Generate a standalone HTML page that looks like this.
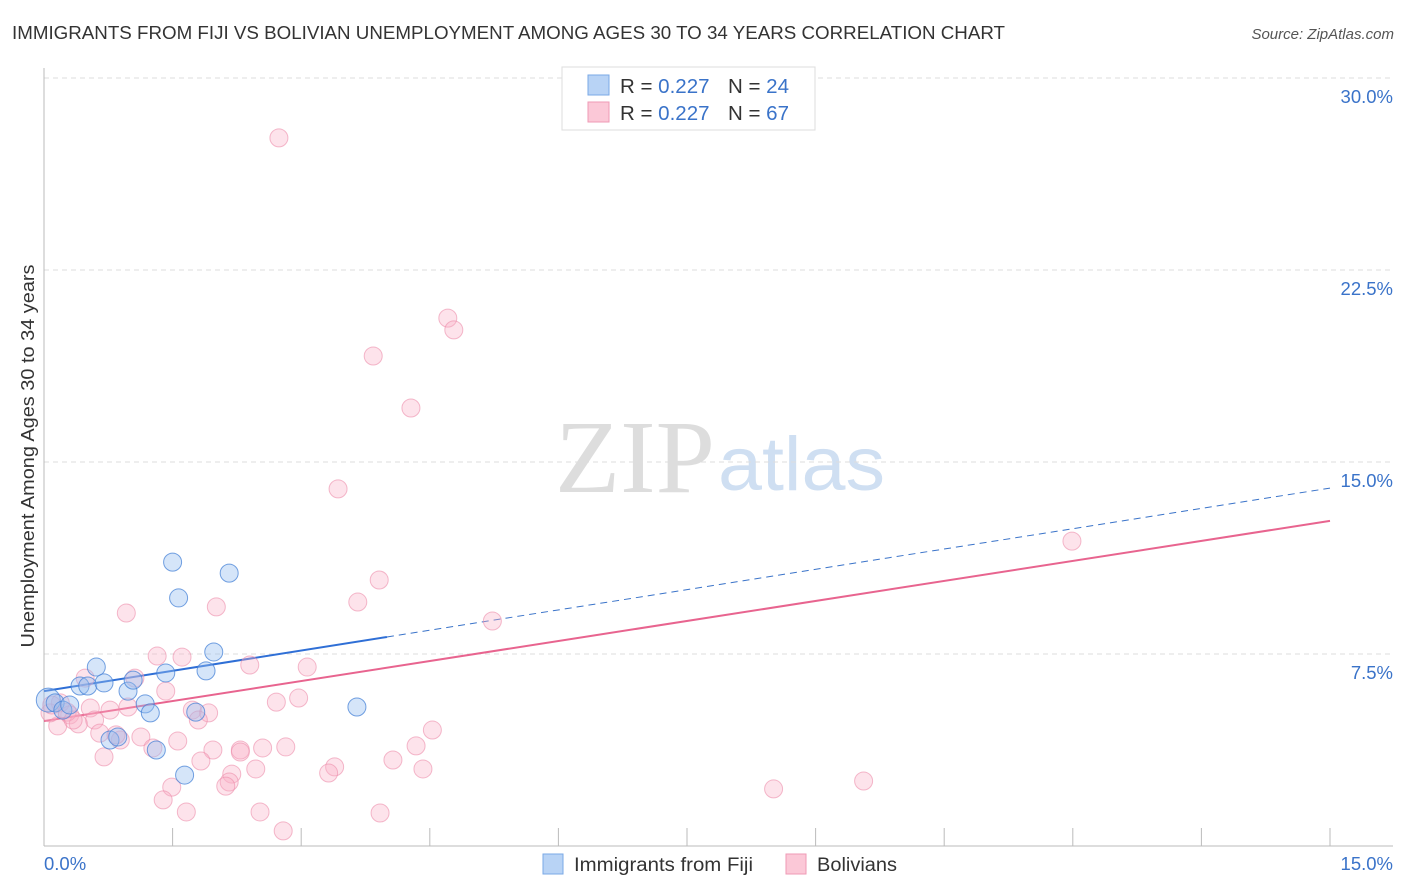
<!DOCTYPE html>
<html><head><meta charset="utf-8"><style>
body{margin:0;background:#fff;font-family:"Liberation Sans",sans-serif;}
svg{display:block}
</style></head><body>
<svg width="1406" height="892" xmlns="http://www.w3.org/2000/svg">
<text x="12" y="39" font-size="18" fill="#333" textLength="993" lengthAdjust="spacingAndGlyphs">IMMIGRANTS FROM FIJI VS BOLIVIAN UNEMPLOYMENT AMONG AGES 30 TO 34 YEARS CORRELATION CHART</text>
<text x="1394" y="39" font-size="15" fill="#555" font-style="italic" text-anchor="end">Source: ZipAtlas.com</text>
<g>
<text x="555" y="492" font-size="104" font-family="Liberation Serif,serif" fill="#ddd" textLength="160" lengthAdjust="spacingAndGlyphs">ZIP</text>
<text x="718" y="490" font-size="76" fill="#cfdff2" textLength="167" lengthAdjust="spacingAndGlyphs">atlas</text>
</g>
<g id="grid"></g>
<g id="axes"></g>
<text x="34" y="456" font-size="18" fill="#333" text-anchor="middle" textLength="383" lengthAdjust="spacingAndGlyphs" transform="rotate(-90 34 456)">Unemployment Among Ages 30 to 34 years</text>
<g id="lines"></g>
<g id="pts"></g>
<g>
<rect x="562" y="67" width="253" height="63" fill="#fff" stroke="#ddd"/>
<rect x="588" y="75" width="21" height="20" fill="#b8d3f5" stroke="#7aa8e6"/>
<rect x="588" y="102" width="21" height="20" fill="#fbc8d7" stroke="#ef9ab5"/>
<text x="620" y="93" font-size="20" fill="#333" textLength="169" lengthAdjust="spacingAndGlyphs">R = <tspan fill="#3a73c9">0.227</tspan><tspan dx="18">N = </tspan><tspan fill="#3a73c9">24</tspan></text>
<text x="620" y="120" font-size="20" fill="#333" textLength="169" lengthAdjust="spacingAndGlyphs">R = <tspan fill="#3a73c9">0.227</tspan><tspan dx="18">N = </tspan><tspan fill="#3a73c9">67</tspan></text>
</g>
<g>
<rect x="543" y="854" width="20" height="20" fill="#b8d3f5" stroke="#7aa8e6"/>
<text x="574" y="871" font-size="19" fill="#333" textLength="179" lengthAdjust="spacingAndGlyphs">Immigrants from Fiji</text>
<rect x="786" y="854" width="20" height="20" fill="#fbc8d7" stroke="#ef9ab5"/>
<text x="817" y="871" font-size="19" fill="#333" textLength="80" lengthAdjust="spacingAndGlyphs">Bolivians</text>
</g>
</svg>
<script>
const yTicks=[7.5,15,22.5,30];
const yTickLabels=["7.5%","15.0%","22.5%","30.0%"];
const xTicks=[0,1.5,3,4.5,6,7.5,9,10.5,12,13.5,15];
const fijiX=[0.05,0.13,0.22,0.30,0.42,0.51,0.61,0.70,0.77,0.86,0.98,1.04,1.18,1.24,1.31,1.42,1.50,1.57,1.64,1.77,1.89,1.98,2.16,3.65];
const fijiY=[5.70,5.59,5.31,5.51,6.25,6.25,6.99,6.37,4.14,4.26,6.05,6.48,5.55,5.20,3.75,6.76,11.09,9.69,2.77,5.23,6.84,7.58,10.66,5.43];
const bolX=[2.74,4.71,4.78,3.84,4.28,3.43,11.99,3.91,3.66,2.01,0.96,5.23,1.32,1.61,2.40,3.07,0.48,1.06,1.42,2.97,2.71,0.54,0.77,0.98,1.73,1.92,0.19,0.30,0.59,0.40,0.16,1.80,0.07,0.65,4.53,1.13,0.89,1.56,1.27,1.97,2.29,2.55,2.82,4.34,0.70,1.83,4.07,2.47,3.39,3.32,4.42,2.19,2.16,2.12,9.56,8.51,1.49,1.39,1.66,2.52,3.92,2.79,0.27,0.84,2.29,0.09,0.34];
const bolY=[27.66,20.62,20.16,19.14,17.11,13.95,11.91,10.39,9.53,9.34,9.10,8.79,7.42,7.38,7.07,6.99,6.56,6.56,6.05,5.78,5.62,5.39,5.31,5.43,5.31,5.20,5.59,5.12,4.92,4.77,4.69,4.92,5.20,4.41,4.53,4.26,4.14,4.10,3.83,3.75,3.75,3.83,3.87,3.91,3.48,3.32,3.36,3.01,3.09,2.85,3.01,2.81,2.50,2.34,2.54,2.23,2.30,1.80,1.33,1.33,1.29,0.59,5.23,4.34,3.67,5.51,4.92];
const fijiTrend=[6.05,13.98];
const bolTrend=[4.88,12.70];
const fijiSolidEnd=4.0;
const NS="http://www.w3.org/2000/svg";
const X=v=>44+v/15*1286, Y=v=>846-v/7.5*192;
function mk(t,a,p){const e=document.createElementNS(NS,t);for(const k in a)e.setAttribute(k,a[k]);p.appendChild(e);return e;}
const grid=document.getElementById('grid'),axes=document.getElementById('axes');
yTicks.forEach((t,i)=>{
 const l=mk('line',{x1:44,x2:1393,y1:Y(t),y2:Y(t),stroke:'#ddd','stroke-dasharray':'5,4'},grid);
 
 
 const tx=mk('text',{x:1393,y:Y(t)+25,'font-size':18.5,fill:'#3a73c9','text-anchor':'end'},axes);
 tx.textContent=yTickLabels[i];
 
 
});
const ya=mk('line',{x1:44,x2:44,y1:68,y2:846,stroke:'#bbb'},axes);


const xa=mk('line',{x1:44,x2:1393,y1:846,y2:846,stroke:'#bbb'},axes);


xTicks.forEach(t=>{
 const l=mk('line',{x1:X(t),x2:X(t),y1:828,y2:846,stroke:'#bbb'},axes);
 
 
});
const xl0=mk('text',{x:44,y:870,'font-size':18.5,fill:'#3a73c9'},axes);xl0.textContent='0.0%';


const xl1=mk('text',{x:1393,y:870,'font-size':18.5,fill:'#3a73c9','text-anchor':'end'},axes);xl1.textContent='15.0%';


const pts=document.getElementById('pts');
bolX.forEach((x,i)=>{
 const c=mk('circle',{cx:X(x),cy:Y(bolY[i]),r:9,fill:'rgba(248,175,198,0.35)',stroke:'rgba(236,140,170,0.6)','stroke-width':1},pts);
 
 
});
fijiX.forEach((x,i)=>{
 const c=mk('circle',{cx:X(x),cy:Y(fijiY[i]),r:i==0?12:9,fill:'rgba(150,190,240,0.4)',stroke:'rgba(70,130,215,0.75)','stroke-width':1},pts);
 
 
});
const lines=document.getElementById('lines');
const f=x=>fijiTrend[0]+(fijiTrend[1]-fijiTrend[0])*x/15, b=x=>bolTrend[0]+(bolTrend[1]-bolTrend[0])*x/15;
const l1=mk('line',{x1:X(fijiSolidEnd),y1:Y(f(fijiSolidEnd)),x2:X(15),y2:Y(f(15)),stroke:'#3a73c9','stroke-width':1,'stroke-dasharray':'7,5'},lines);


const l2=mk('line',{x1:X(0),y1:Y(b(0)),x2:X(15),y2:Y(b(15)),stroke:'#e8648f','stroke-width':2},lines);


const l3=mk('line',{x1:X(0),y1:Y(f(0)),x2:X(fijiSolidEnd),y2:Y(f(fijiSolidEnd)),stroke:'#2f6fd6','stroke-width':2},lines);


</script>
</body></html>
